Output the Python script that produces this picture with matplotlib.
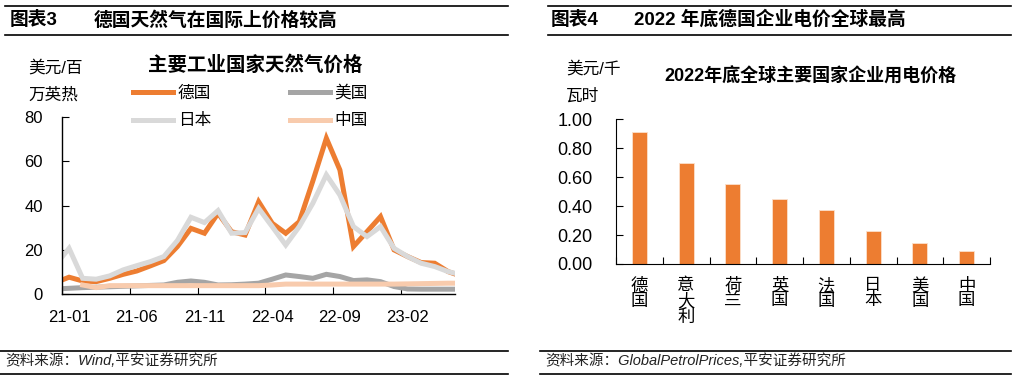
import matplotlib
matplotlib.use("Agg")

import numpy as np
import pandas as pd
import matplotlib.pyplot as plt
from matplotlib.lines import Line2D

plt.rcParams['font.family'] = ['Liberation Sans', 'Noto Sans CJK SC']
plt.rcParams['axes.unicode_minus'] = False

# ---- left chart: monthly gas prices, 2020-12 .. 2023-06 (USD / MMBtu)
months = [p.strftime("%y-%m") for p in pd.period_range("2020-12", "2023-06", freq="M")]
germany = [5.3, 7.7, 6.0, 5.7, 7.2, 9.0, 10.5, 12.8, 15.2, 21.5, 29.7, 27.5, 36.5, 28.2, 26.7,
           41.7, 32.0, 27.5, 32.7, 51.0, 70.3, 56.0, 21.5, 28.2, 35.0, 20.0, 17.0, 14.3, 14.0, 10.2, 8.1]
japan = [13.3, 20.7, 7.2, 6.8, 8.3, 11.0, 12.9, 14.7, 17.0, 24.2, 34.7, 32.3, 37.7, 27.5, 27.8,
         38.7, 30.5, 22.2, 30.5, 41.0, 53.8, 44.7, 30.5, 26.0, 30.5, 20.7, 17.0, 14.0, 12.5, 10.2, 8.7]
usa = [2.4, 2.7, 3.0, 3.2, 3.4, 3.6, 3.8, 4.0, 4.2, 5.4, 6.0, 5.4, 4.2, 4.3, 4.6,
       5.0, 6.8, 8.7, 8.0, 7.2, 9.0, 8.0, 6.2, 6.5, 5.7, 3.5, 2.4, 2.3, 2.3, 2.3, 2.3]
china = [np.nan, np.nan, 4.2, 3.0, 3.9, 3.9, 3.9, 3.9, 3.9, 3.9, 3.9, 3.9, 3.9, 3.9, 3.9,
         3.9, 4.2, 4.6, 4.6, 4.6, 4.6, 4.6, 4.6, 4.6, 4.6, 4.6, 4.7, 4.8, 4.9, 5.0, 5.0]
gas_labels = ["21-01", "21-06", "21-11", "22-04", "22-09", "23-02"]

# ---- right chart: end-2022 industrial electricity prices (USD / kWh)
countries = ["德\n国", "意\n大\n利", "荷\n兰", "英\n国", "法\n国", "日\n本", "美\n国", "中\n国"]
power_price = [0.91, 0.70, 0.553, 0.447, 0.371, 0.23, 0.145, 0.088]

ORANGE = "#ED7D31"
GRAY = "#A5A5A5"
LIGHT = "#D9D9D9"
PEACH = "#F8CBAD"

fig = plt.figure(figsize=(10.14, 3.81), dpi=100)
W, H = 1014, 381


def fx(px):
    return px / W


def fy(py):
    return 1 - py / H


def hline(x0, x1, y, lw=1.2):
    fig.add_artist(Line2D([fx(x0), fx(x1)], [fy(y), fy(y)], color="black", lw=lw))


# header / footer rules
for x0, x1 in [(5, 508), (548, 1011)]:
    hline(x0, x1, 6)
    hline(x0, x1, 35)
for x0, x1 in [(0, 508), (540, 1011)]:
    hline(x0, x1, 351)
    hline(x0, x1, 374)

fig.text(fx(10), fy(20), "图表3", fontsize=13.5, fontweight="bold", va="center")
fig.text(fx(94), fy(20), "德国天然气在国际上价格较高", fontsize=13.5, fontweight="bold", va="center")
fig.text(fx(551), fy(20), "图表4", fontsize=13.5, fontweight="bold", va="center")
fig.text(fx(634), fy(20), "2022 年底德国企业电价全球最高", fontsize=13.5, fontweight="bold", va="center")
fig.text(fx(5), fy(361), "资料来源：Wind,平安证券研究所", fontsize=10.5, style="italic", va="center", color="#222222")
fig.text(fx(545), fy(361), "资料来源：GlobalPetrolPrices,平安证券研究所", fontsize=10.5, style="italic",
         va="center", color="#222222")

# ---- left chart
ax = fig.add_axes([fx(62.3), fy(294.3), fx(455) - fx(62.3), fy(116.7) - fy(294.3)])
x = np.arange(len(months)) - 0.5
lines = {}
for vals, col, name in [(germany, ORANGE, "德国"), (usa, GRAY, "美国"),
                        (japan, LIGHT, "日本"), (china, PEACH, "中国")]:
    lines[name], = ax.plot(x, vals, color=col, lw=3.6, label=name, solid_joinstyle="miter")
ax.set_xlim(0, 29)
ax.set_ylim(0, 80)
ax.set_yticks([0, 20, 40, 60, 80])
tick_pos = [months.index(m) - 1 for m in gas_labels]
ax.set_xticks(tick_pos)
ax.set_xticklabels([])
ax.set_xticks([p + 0.5 for p in tick_pos], minor=True)
ax.set_xticklabels(gas_labels, minor=True)
ax.tick_params(axis="x", which="minor", length=0, pad=11, labelsize=12)
ax.tick_params(axis="x", which="major", direction="in", length=5)
ax.tick_params(axis="y", direction="in", length=5, labelsize=12, pad=14)
for s in ["top", "right"]:
    ax.spines[s].set_visible(False)
for s in ["left", "bottom"]:
    ax.spines[s].set_linewidth(1.0)
order = ["德国", "日本", "美国", "中国"]
ax.legend([lines[n] for n in order], order, ncol=2, frameon=False, fontsize=12,
          loc="upper left", bbox_to_anchor=(fx(133), fy(85)), bbox_transform=fig.transFigure,
          borderaxespad=0, borderpad=0, handlelength=2.4, columnspacing=4.7,
          handletextpad=0.3, labelspacing=0.75)
fig.text(fx(255), fy(65), "主要工业国家天然气价格", fontsize=14, fontweight="bold", ha="center", va="center")
fig.text(fx(28), fy(68), "美元/百", fontsize=12, va="center")
fig.text(fx(28), fy(95), "万英热", fontsize=12, va="center")

# ---- right chart
bx = fig.add_axes([fx(616), fy(264), fx(990) - fx(616), fy(119.3) - fy(264)])
bx.bar(np.arange(len(countries)), power_price, width=0.32, color=ORANGE, edgecolor="#FBE0CC", linewidth=0.6)
bx.set_xlim(-0.5, len(countries) - 0.5)
bx.set_ylim(0, 1.0)
bx.set_yticks(np.arange(0, 1.01, 0.2))
bx.set_yticklabels([f"{v:.2f}" for v in np.arange(0, 1.01, 0.2)])
bx.set_xticks(np.arange(len(countries) + 1) - 0.5)
bx.set_xticklabels([])
bx.set_xticks(np.arange(len(countries)), minor=True)
bx.set_xticklabels(countries, minor=True, fontsize=12.5, linespacing=0.95, va="top")
bx.tick_params(axis="x", which="minor", length=0, pad=10)
bx.tick_params(axis="x", which="major", direction="in", length=5)
bx.tick_params(axis="y", direction="in", length=5, labelsize=13, pad=17)
for s in ["top", "right"]:
    bx.spines[s].set_visible(False)
fig.text(fx(810), fy(77), "2022年底全球主要国家企业用电价格", fontsize=13, fontweight="bold", ha="center", va="center")
fig.text(fx(566), fy(69), "美元/千", fontsize=12, va="center")
fig.text(fx(566), fy(96), "瓦时", fontsize=12, va="center")

fig.savefig("out.png", dpi=100)
